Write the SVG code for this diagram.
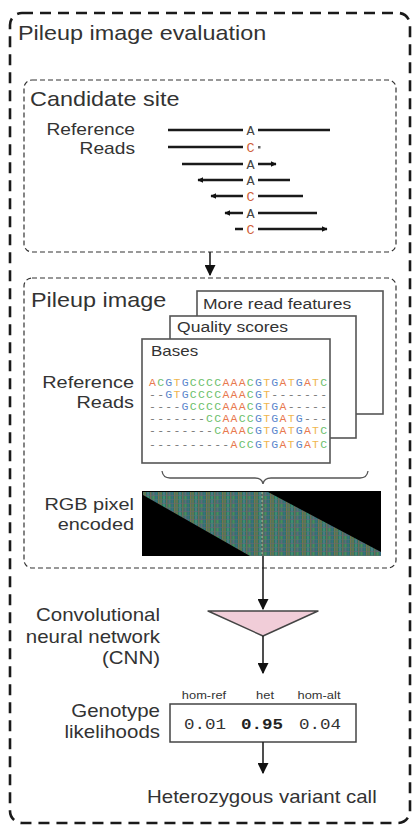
<svg xmlns="http://www.w3.org/2000/svg" width="420" height="840" viewBox="0 0 420 840">
<style>
.lbl{font-family:"Liberation Sans",Arial,sans-serif;fill:#333}
.t20{font-size:20px}
.t17{font-size:17px}
.t16{font-size:16px}
.t175{font-size:17.5px}
.t15{font-size:15px}
.e{text-anchor:end}
.m{text-anchor:middle}
.mono{font-family:"Liberation Mono","Courier New",monospace}
.seq{font-family:"Liberation Mono","Courier New",monospace;font-size:11.5px;letter-spacing:1.25px;fill:#777}
.a{fill:#e8794f}.c{fill:#6cc06c}.g{fill:#5a86cc}.t{fill:#f0b64e}.d{fill:#777}
.rd{stroke:#1a1a1a;stroke-width:2.6;fill:none}
.box{fill:#fff;stroke:#555;stroke-width:1.6}
.con{stroke:#222;stroke-width:1.6;fill:none}
</style>
<defs>
<marker id="ah" viewBox="0 0 10 10" refX="9" refY="5" markerWidth="6" markerHeight="6" orient="auto" markerUnits="userSpaceOnUse">
<path d="M0,0 L10,5 L0,10 z" fill="#111"/>
</marker>
<marker id="ar" viewBox="0 0 10 10" refX="9" refY="5" markerWidth="11" markerHeight="11" orient="auto" markerUnits="userSpaceOnUse">
<path d="M0,0 L10,5 L0,10 z" fill="#111"/>
</marker>
<pattern id="px" width="16" height="8" patternUnits="userSpaceOnUse">
<rect width="16" height="8" fill="#2e7467"/>
<rect x="0" y="0" width="2" height="8" fill="#5f7650"/>
<rect x="3" y="0" width="2" height="4" fill="#3f8c72"/>
<rect x="3" y="4" width="2" height="4" fill="#4b7a84"/>
<rect x="6" y="0" width="1.5" height="8" fill="#6e6c58"/>
<rect x="8.5" y="0" width="2" height="4" fill="#4b8c58"/>
<rect x="8.5" y="4" width="2" height="4" fill="#5c6c78"/>
<rect x="11.5" y="0" width="1.5" height="8" fill="#3a6e80"/>
<rect x="14" y="0" width="1.5" height="8" fill="#76744e"/>
<rect y="3" width="16" height="1" fill="#5c7070" opacity="0.55"/>
<rect y="7" width="16" height="1" fill="#6a6470" opacity="0.55"/>
</pattern>
<clipPath id="band"><polygon points="143,492 268,492 381,552 381,556 250,556 143,495"/></clipPath>
</defs>

<g id="outer">
<rect x="10" y="13" width="400" height="810" rx="12" fill="none" stroke="#1a1a1a" stroke-width="2.6" stroke-dasharray="11 7"/>
<text class="lbl t20" transform="translate(18,40) scale(1.17,1)">Pileup image evaluation</text>
</g>

<g id="candidate-site">
<rect x="24" y="80" width="372" height="172" rx="8" fill="none" stroke="#333" stroke-width="1.2" stroke-dasharray="5 3"/>
<text class="lbl t20" transform="translate(30,106) scale(1.17,1)">Candidate site</text>
<text class="lbl t16 e" transform="translate(135,135) scale(1.2,1)">Reference</text>
<text class="lbl t16 e" transform="translate(135,154) scale(1.2,1)">Reads</text>
<path class="rd" d="M168,130 H243 M258,130 H330"/>
<path class="rd" d="M168,147 H243"/>
<rect x="258" y="146" width="2.5" height="2.5" fill="#666"/>
<path class="rd" d="M182,164 H243 M258,164 H276" marker-end="url(#ah)"/>
<path class="rd" d="M290,180 H258 M243,180 H198" marker-end="url(#ah)"/>
<path class="rd" d="M303,196 H258 M243,196 H211" marker-end="url(#ah)"/>
<path class="rd" d="M317,213 H258 M243,213 H225" marker-end="url(#ah)"/>
<path class="rd" d="M235,229 H243 M258,229 H327" marker-end="url(#ah)"/>
<g class="mono" font-size="13.5" text-anchor="middle">
<text x="250.5" y="134.5" fill="#444">A</text>
<text x="250.5" y="151.5" fill="#d0603a">C</text>
<text x="250.5" y="168.5" fill="#444">A</text>
<text x="250.5" y="184.5" fill="#444">A</text>
<text x="250.5" y="200.5" fill="#d0603a">C</text>
<text x="250.5" y="217.5" fill="#444">A</text>
<text x="250.5" y="233.5" fill="#d0603a">C</text>
</g>
</g>

<g id="pileup-image">
<rect x="24" y="278" width="372" height="290" rx="8" fill="none" stroke="#333" stroke-width="1.2" stroke-dasharray="5 3"/>
<text class="lbl t20" transform="translate(31,307) scale(1.17,1)">Pileup image</text>
<rect class="box" x="197" y="291" width="186" height="123"/>
<text class="lbl t15" transform="translate(203,309) scale(1.17,1)">More read features</text>
<rect class="box" x="170" y="316" width="186" height="122"/>
<text class="lbl t15" transform="translate(177,332) scale(1.17,1)">Quality scores</text>
<rect class="box" x="142" y="339" width="188" height="124"/>
<text class="lbl" font-size="14.5" transform="translate(151,356) scale(1.17,1)">Bases</text>
<text class="lbl t17 e" transform="translate(134,388) scale(1.17,1)">Reference</text>
<text class="lbl t17 e" transform="translate(134,408) scale(1.17,1)">Reads</text>
<text class="seq" x="149" y="386"><tspan class="a">A</tspan><tspan class="c">C</tspan><tspan class="g">G</tspan><tspan class="t">T</tspan><tspan class="g">G</tspan><tspan class="c">CCCC</tspan><tspan class="a">AAA</tspan><tspan class="c">C</tspan><tspan class="g">G</tspan><tspan class="t">T</tspan><tspan class="g">G</tspan><tspan class="a">A</tspan><tspan class="t">T</tspan><tspan class="g">G</tspan><tspan class="a">A</tspan><tspan class="t">T</tspan><tspan class="c">C</tspan></text>
<text class="seq" x="149" y="398"><tspan class="d">--</tspan><tspan class="g">G</tspan><tspan class="t">T</tspan><tspan class="g">G</tspan><tspan class="c">CCCC</tspan><tspan class="a">AAA</tspan><tspan class="c">C</tspan><tspan class="g">G</tspan><tspan class="t">T</tspan><tspan class="d">-------</tspan></text>
<text class="seq" x="149" y="410"><tspan class="d">----</tspan><tspan class="g">G</tspan><tspan class="c">CCCC</tspan><tspan class="a">AAA</tspan><tspan class="c">C</tspan><tspan class="g">G</tspan><tspan class="t">T</tspan><tspan class="g">G</tspan><tspan class="a">A</tspan><tspan class="d">-----</tspan></text>
<text class="seq" x="149" y="422"><tspan class="d">-------</tspan><tspan class="c">CC</tspan><tspan class="a">AA</tspan><tspan class="c">CC</tspan><tspan class="g">G</tspan><tspan class="t">T</tspan><tspan class="g">G</tspan><tspan class="a">A</tspan><tspan class="t">T</tspan><tspan class="g">G</tspan><tspan class="d">---</tspan></text>
<text class="seq" x="149" y="434"><tspan class="d">--------</tspan><tspan class="c">C</tspan><tspan class="a">AAA</tspan><tspan class="c">C</tspan><tspan class="g">G</tspan><tspan class="t">T</tspan><tspan class="g">G</tspan><tspan class="a">A</tspan><tspan class="t">T</tspan><tspan class="g">G</tspan><tspan class="a">A</tspan><tspan class="t">T</tspan><tspan class="c">C</tspan></text>
<text class="seq" x="149" y="448"><tspan class="d">----------</tspan><tspan class="a">A</tspan><tspan class="c">CC</tspan><tspan class="g">G</tspan><tspan class="t">T</tspan><tspan class="g">G</tspan><tspan class="a">A</tspan><tspan class="t">T</tspan><tspan class="g">G</tspan><tspan class="a">A</tspan><tspan class="t">T</tspan><tspan class="c">C</tspan></text>
<path d="M162,471 Q163,478 170,478 H255 Q262,478 263,484 Q264,478 271,478 H360 Q367,478 368,471" fill="none" stroke="#555" stroke-width="1.3"/>
<text class="lbl t17 e" transform="translate(134,510) scale(1.17,1)">RGB pixel</text>
<text class="lbl t17 e" transform="translate(134,530) scale(1.17,1)">encoded</text>
<rect x="142" y="491" width="239" height="65" fill="#000"/>
<rect x="142" y="491" width="239" height="65" fill="url(#px)" clip-path="url(#band)"/>
<line x1="262" y1="492" x2="262" y2="556" stroke="#cfe8c8" stroke-width="1" stroke-dasharray="2 2" opacity="0.7"/>
</g>

<g id="cnn">
<polygon points="208,611 318,611 263,636" fill="#f1cdd8" stroke="#444" stroke-width="1.4" stroke-linejoin="round"/>
<text class="lbl t175 e" transform="translate(160,621) scale(1.17,1)">Convolutional</text>
<text class="lbl t175 e" transform="translate(160,643) scale(1.17,1)">neural network</text>
<text class="lbl t175 e" transform="translate(160,664) scale(1.17,1)">(CNN)</text>
</g>

<g id="genotype">
<text class="lbl t175 e" transform="translate(160,717) scale(1.17,1)">Genotype</text>
<text class="lbl t175 e" transform="translate(160,738) scale(1.17,1)">likelihoods</text>
<text class="lbl m" font-size="11" transform="translate(204,699) scale(1.17,1)">hom-ref</text>
<text class="lbl m" font-size="11" transform="translate(265,699) scale(1.17,1)">het</text>
<text class="lbl m" font-size="11" transform="translate(319,699) scale(1.17,1)">hom-alt</text>
<rect x="170" y="704" width="186" height="38" fill="#fff" stroke="#444" stroke-width="1.5"/>
<text class="mono m" font-size="15" fill="#333" transform="translate(205,729) scale(1.17,1)">0.01</text>
<text class="mono m" font-size="15" fill="#222" font-weight="bold" transform="translate(262,729) scale(1.17,1)">0.95</text>
<text class="mono m" font-size="15" fill="#333" transform="translate(320,729) scale(1.17,1)">0.04</text>
</g>

<g id="result">
<text class="lbl t175" transform="translate(147,803) scale(1.17,1)">Heterozygous variant call</text>
</g>

<g id="connectors">
<line class="con" x1="210" y1="252" x2="210" y2="275" marker-end="url(#ar)"/>
<line class="con" x1="263" y1="556" x2="263" y2="609" marker-end="url(#ar)"/>
<line class="con" x1="263" y1="636" x2="263" y2="673" marker-end="url(#ar)"/>
<line class="con" x1="263" y1="742" x2="263" y2="773" marker-end="url(#ar)"/>
</g>
</svg>
